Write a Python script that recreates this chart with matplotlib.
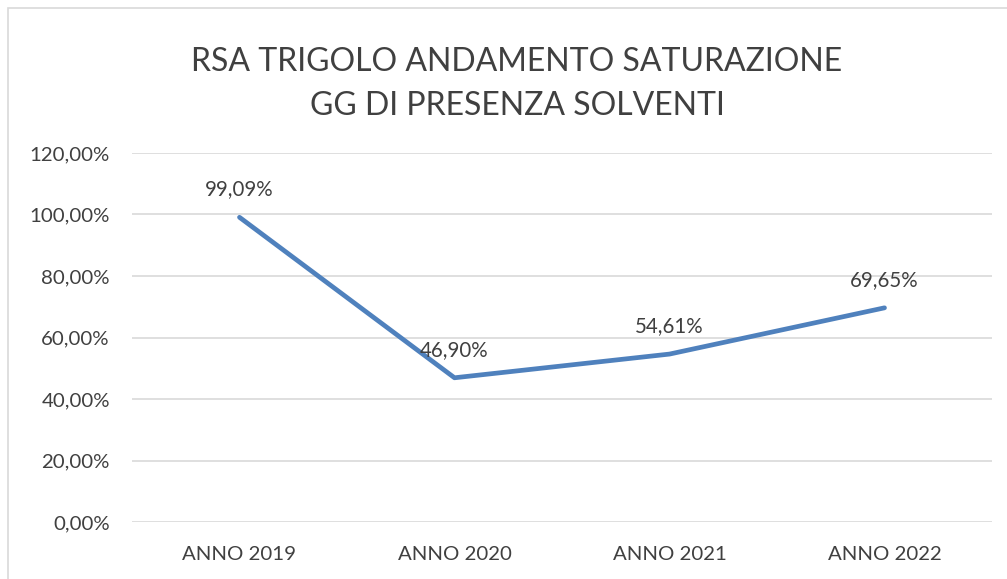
import matplotlib.pyplot as plt
from matplotlib.patches import Rectangle

years = ["ANNO 2019", "ANNO 2020", "ANNO 2021", "ANNO 2022"]
saturazione = [99.09, 46.90, 54.61, 69.65]
y_ticks = [0, 20, 40, 60, 80, 100, 120]
title = "RSA TRIGOLO ANDAMENTO SATURAZIONE\nGG DI PRESENZA SOLVENTI"


def pct(v):
    return f"{v:.2f}".replace(".", ",") + "%"


def main():
    plt.rcParams["font.family"] = ["Lato", "DejaVu Sans"]
    fig = plt.figure(figsize=(10.07, 5.79), dpi=100)
    fig.patches.append(Rectangle((8 / 1007, -0.1), 1.1, 1.1 - 8 / 579,
                                 transform=fig.transFigure, fill=False,
                                 edgecolor="#d9d9d9", linewidth=1.2))
    ax = fig.add_axes([132 / 1007, 1 - 522 / 579, 860 / 1007, (522 - 153) / 579])

    x = list(range(len(years)))
    ax.plot(x, saturazione, color="#4f81bd", linewidth=3.4,
            solid_capstyle="round", solid_joinstyle="round", zorder=3)
    for xi, v in zip(x, saturazione):
        ax.annotate(pct(v), (xi, v), xytext=(0, 20), textcoords="offset points",
                    ha="center", va="center", fontsize=14.8, color="#404040")

    ax.set_xlim(-0.5, len(years) - 0.5)
    ax.set_ylim(0, 120)
    ax.set_yticks(y_ticks)
    ax.set_yticklabels([pct(t) for t in y_ticks])
    ax.set_xticks(x)
    ax.set_xticklabels(years)
    ax.tick_params(axis="both", length=0, labelsize=14.7, labelcolor="#404040")
    ax.tick_params(axis="y", pad=16)
    ax.tick_params(axis="x", pad=17)
    ax.grid(axis="y", color="#d9d9d9", linewidth=1.2)
    ax.set_axisbelow(True)
    for s in ax.spines.values():
        s.set_visible(False)

    fig.text(517 / 1007, 1 - 84 / 579, title, ha="center", va="center",
             fontsize=23, color="#404040", linespacing=1.55)

    fig.savefig("out.png", dpi=100)
    plt.close(fig)


if __name__ == "__main__":
    main()
